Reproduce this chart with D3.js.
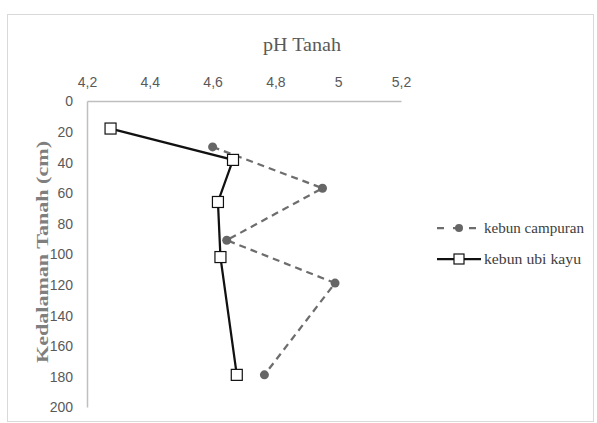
<!doctype html>
<html lang="en">
<head>
  <meta charset="utf-8">
  <title>pH Tanah</title>
  <style>
    body { margin: 0; background: #fff; }
    svg { display: block; }
  </style>
</head>
<body>
  <script src="https://cdn.jsdelivr.net/npm/d3@7"></script>
  <svg width="597" height="423"></svg>
  <script>
    // depth (cm) vs pH, two land uses
    var campuranPH = [4.60, 4.95, 4.645, 4.99, 4.765];
    var campuranDepth = [30, 57, 91, 119, 179];
    var ubiPH = [4.275, 4.665, 4.617, 4.625, 4.677];
    var ubiDepth = [18, 38.5, 66, 102, 179];
    var xTicks = [4.2, 4.4, 4.6, 4.8, 5, 5.2];
    var yTicks = [0, 20, 40, 60, 80, 100, 120, 140, 160, 180, 200];
    var seriesNames = ["kebun campuran", "kebun ubi kayu"];

    var svg = d3.select("svg");
    var pLeft = 87, pRight = 401, pTop = 101, pBottom = 407;

    var x = d3.scaleLinear().domain([4.2, 5.2]).range([pLeft, pRight]);
    var y = d3.scaleLinear().domain([0, 200]).range([pTop, pBottom]);

    //outer chart frame
    svg.append("rect").attr("x", 7.5).attr("y", 14.5).attr("width", 586).attr("height", 407)
      .style("fill", "none").style("stroke", "#d9d9d9");

    var fmt = d => String(d).replace(".", ",");
    var tickFont = "'Liberation Sans Narrow', 'Liberation Sans', sans-serif";

    var xAxis = svg.append("g").attr("transform", "translate(0," + pTop + ")")
      .call(d3.axisTop(x).tickValues(xTicks).tickFormat(fmt).tickSize(0).tickPadding(14));
    var yAxis = svg.append("g").attr("transform", "translate(" + pLeft + ",0)")
      .call(d3.axisLeft(y).tickValues(yTicks).tickSize(0).tickPadding(14));
    [xAxis, yAxis].forEach(a => {
      a.select(".domain").style("stroke", "#bfbfbf").style("stroke-width", 1.5);
      a.selectAll("text").style("fill", "#595959").style("font-family", tickFont).style("font-size", "14px");
    });
    yAxis.selectAll("text").attr("dy", "0.35em");

    svg.append("text").attr("x", 302).attr("y", 51).attr("text-anchor", "middle")
      .attr("textLength", 78).attr("lengthAdjust", "spacingAndGlyphs")
      .style("font-family", "'Liberation Serif', serif").style("font-size", "19px").style("fill", "#595959")
      .text("pH Tanah");
    svg.append("text").attr("transform", "translate(48,252) rotate(-90)").attr("text-anchor", "middle")
      .attr("textLength", 222).attr("lengthAdjust", "spacingAndGlyphs")
      .style("font-family", "'Liberation Serif', serif").style("font-size", "17px").style("font-weight", "bold")
      .style("fill", "#7f7f7f")
      .text("Kedalaman Tanah (cm)");

    var line = d3.line().x(d => x(d[0])).y(d => y(d[1]));
    var campuran = campuranPH.map((v, i) => [v, campuranDepth[i]]);
    var ubi = ubiPH.map((v, i) => [v, ubiDepth[i]]);

    svg.append("path").datum(campuran).attr("d", line)
      .style("fill", "none").style("stroke", "#6d6d6d").style("stroke-width", 2.25).style("stroke-dasharray", "7,5");
    svg.selectAll("circle.c").data(campuran).enter().append("circle").attr("class", "c")
      .attr("cx", d => x(d[0])).attr("cy", d => y(d[1])).attr("r", 4.5)
      .style("fill", "#666");

    svg.append("path").datum(ubi).attr("d", line)
      .style("fill", "none").style("stroke", "#111").style("stroke-width", 2.25);
    svg.selectAll("rect.u").data(ubi).enter().append("rect").attr("class", "u")
      .attr("x", d => x(d[0]) - 5.5).attr("y", d => y(d[1]) - 5.5).attr("width", 11).attr("height", 11)
      .style("fill", "#fff").style("stroke", "#111").style("stroke-width", 1.2);

    //legend
    var lg = svg.append("g");
    var ly = [228, 259];
    lg.append("line").attr("x1", 437).attr("x2", 482).attr("y1", ly[0]).attr("y2", ly[0])
      .style("stroke", "#6d6d6d").style("stroke-width", 2.25).style("stroke-dasharray", "7,9");
    lg.append("circle").attr("cx", 459).attr("cy", ly[0]).attr("r", 4).style("fill", "#666");
    lg.append("line").attr("x1", 437).attr("x2", 481).attr("y1", ly[1]).attr("y2", ly[1])
      .style("stroke", "#111").style("stroke-width", 2.25);
    lg.append("rect").attr("x", 454).attr("y", ly[1] - 5).attr("width", 10).attr("height", 10)
      .style("fill", "#fff").style("stroke", "#111").style("stroke-width", 1.2);
    lg.selectAll("text").data(seriesNames).enter().append("text")
      .attr("x", 484).attr("y", (d, i) => ly[i]).attr("dy", "0.35em")
      .attr("textLength", (d, i) => [100, 97][i]).attr("lengthAdjust", "spacingAndGlyphs")
      .style("font-family", "'Liberation Serif', serif").style("font-size", "15px").style("fill", "#404040")
      .text(d => d);
  </script>
</body>
</html>
